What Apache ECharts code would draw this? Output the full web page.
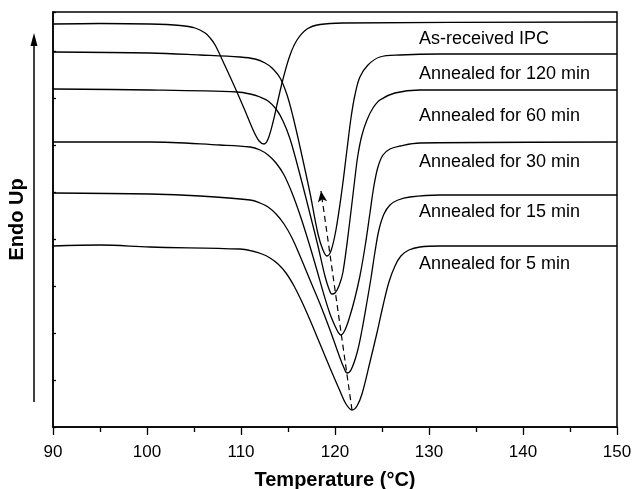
<!DOCTYPE html>
<html><head><meta charset="utf-8">
<script src="https://cdn.jsdelivr.net/npm/echarts/dist/echarts.min.js"></script>
<style>html,body{margin:0;padding:0;background:#fff}#c{width:633px;height:489px}</style>
</head><body><div id="c"></div>
<script>
// Temperature (°C) vs heat flow (arbitrary units, endo up)
const asReceived = [[90.0,403],[95.0,403.5],[100.3,403],[103.53,401.5],[105.12,399],[106.19,394],[106.72,389],[107.25,382],[108.31,361],[109.38,339],[110.44,316],[111.29,297],[111.93,286],[112.45,283],[112.88,288],[113.41,305],[113.94,327],[114.47,348],[115.22,372],[115.96,387],[117.02,398],[118.41,402.5],[120.85,404],[150,405]];
const annealed120 = [[90,375],[100.3,374],[105.65,372],[109.9,370],[111.5,368],[112.56,364],[113.3,359],[114.16,349],[114.9,332],[115.54,310],[116.28,280],[117.34,234],[118.19,193],[118.72,177],[119.14,171],[119.57,176],[120.1,197],[120.74,237],[121.27,277],[121.7,309],[122.12,332],[122.65,350],[123.51,362],[124.78,370],[126.91,372],[131.16,373],[150,373]];
const annealed60 = [[90,338],[100.3,337],[109.59,335],[110.97,333],[112.03,330],[112.88,326],[113.73,318],[114.47,306],[115.22,288],[116.28,252],[117.34,213],[118.19,181],[118.93,151],[119.36,138],[119.68,133],[120.0,134],[120.42,141],[120.85,155],[121.59,207],[122.12,249],[122.44,272],[122.87,292],[123.40,307],[124.04,319],[124.78,327],[126.37,334],[129.03,337],[150,337]];
const annealed30 = [[90,285],[100.3,285],[107.78,282],[110.97,280],[112.03,277],[112.88,272],[113.73,264],[114.58,252],[115.43,234],[116.28,212],[117.13,187],[117.98,160],[118.83,132],[119.47,113],[120.0,101],[120.32,95],[120.63,92],[121.06,97],[121.59,111],[122.12,129],[122.65,151],[123.19,180],[123.72,214],[124.14,241],[124.57,260],[125.1,272],[125.85,278],[126.91,281],[129.03,284],[150,285]];
const annealed15 = [[90,234],[100.3,233],[105.65,231],[110.97,227],[112.03,224],[112.88,220],[113.73,213],[114.58,203],[115.43,189],[116.28,171],[117.34,147],[118.41,123],[119.47,97],[120.53,69],[120.96,59],[121.27,54],[121.7,57],[122.34,74],[122.87,97],[123.4,125],[123.83,149],[124.25,175],[124.67,197],[125.21,213],[125.85,222],[126.7,227],[127.97,230],[131.16,232],[150,232]];
const annealed5 = [[90,181],[95.03,182],[100.3,180],[109.9,178],[111.18,176],[112.24,173],[113.09,169],[113.94,163],[114.79,154],[115.64,141],[116.49,125],[117.34,107],[118.41,83],[119.47,59],[120.53,36],[121.17,23],[121.81,17],[122.34,21],[122.87,33],[123.72,65],[124.46,94],[125.1,121],[125.74,145],[126.38,161],[127.01,171],[127.86,177],[129.03,180],[131.16,181],[150,181]];
const peakShift = [[121.81,17],[118.51,236]];
const seriesNames = ['As-received IPC','Annealed for 120 min','Annealed for 60 min','Annealed for 30 min','Annealed for 15 min','Annealed for 5 min'];
const xTicks = [90,100,110,120,130,140,150];

const chart = echarts.init(document.getElementById('c'), null, {renderer:'canvas', width:633, height:489});
const datasets = [asReceived, annealed120, annealed60, annealed30, annealed15, annealed5];
const labelY = [40, 75, 117, 163, 213, 265];
const FONT = '"Liberation Sans", Arial, sans-serif';

const series = datasets.map((d,i)=>({
  name: seriesNames[i], type:'line', data:d, smooth:0.35,
  symbol:'none', lineStyle:{color:'#000', width:1.3}, silent:true, z:3
}));
series.push({
  type:'line', data:[], silent:true,
  markLine:{
    silent:true, symbol:['none','arrow'], symbolSize:[7,11],
    lineStyle:{color:'#000', type:[6,4], width:1.2},
    label:{show:false},
    data:[[{coord:peakShift[0]},{coord:peakShift[1]}]]
  }
});

const graphics = [
  {type:'line', shape:{x1:34,y1:402,x2:34,y2:42}, style:{stroke:'#000', lineWidth:1.5}},
  {type:'polygon', shape:{points:[[34,33],[30.5,46],[37.5,46]]}, style:{fill:'#000'}}
];
seriesNames.forEach((t,i)=>{
  graphics.push({type:'text', left:419, top:labelY[i]-10, style:{text:t, font:'18px '+FONT, fill:'#000'}});
});

chart.setOption({
  animation:false,
  backgroundColor:'#fff',
  grid:{left:53, right:16, top:12, bottom:62, outerBoundsMode:'none', containLabel:false, show:true, borderColor:'#000', borderWidth:1.5, backgroundColor:'transparent'},
  xAxis:{
    type:'value', min:xTicks[0], max:xTicks[xTicks.length-1], interval:10,
    name:'Temperature (°C)', nameLocation:'middle', nameGap:43,
    nameTextStyle:{fontFamily:FONT, fontSize:20, fontWeight:'bold', color:'#000'},
    axisLine:{show:true, onZero:false, lineStyle:{color:'#000', width:1.5}},
    axisTick:{show:true, inside:false, length:8, lineStyle:{color:'#000', width:1.3}},
    minorTick:{show:true, splitNumber:2, length:5, lineStyle:{color:'#000', width:1.3}},
    axisLabel:{fontFamily:FONT, fontSize:17, color:'#000', margin:17},
    splitLine:{show:false}
  },
  yAxis:{
    type:'value', min:0, max:415, interval:47,
    name:'Endo Up', nameLocation:'middle', nameGap:26,
    nameTextStyle:{fontFamily:FONT, fontSize:20, fontWeight:'bold', color:'#000'},
    axisLine:{show:true, onZero:false, lineStyle:{color:'#000', width:1.5}},
    axisTick:{show:true, inside:true, length:3, lineStyle:{color:'#000', width:1.3}},
    axisLabel:{show:false},
    splitLine:{show:false}
  },
  graphic:graphics,
  series:series
});
</script>
</body></html>
